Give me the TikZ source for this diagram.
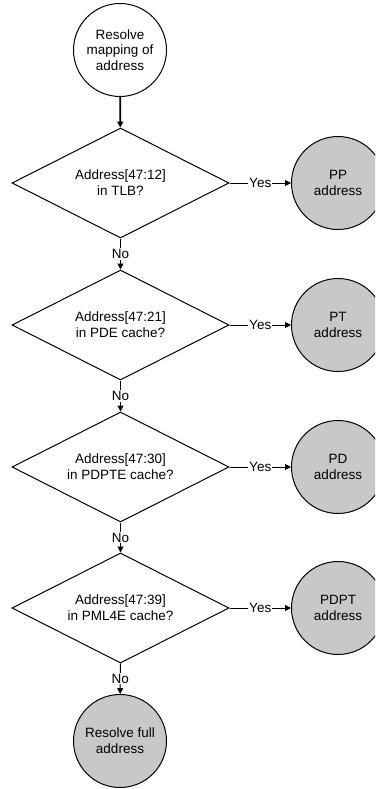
\documentclass[tikz,border=0pt]{standalone}
\usepackage{fontspec}
\setmainfont{Liberation Sans}
\usetikzlibrary{shapes.geometric,arrows.meta}
\definecolor{termgrey}{HTML}{C8C8C8}
\begin{document}
\begin{tikzpicture}[x=1pt,y=-1pt,
  every node/.style={font=\fontsize{13.5}{15.8}\selectfont},
  term/.style={circle, draw, line width=1pt, minimum size=93pt, inner sep=0pt, align=center},
  result/.style={term, fill=termgrey},
  test/.style={diamond, aspect=2, draw, line width=1pt, minimum width=217pt,
               minimum height=110pt, inner sep=0pt, align=center},
  flow/.style={line width=1pt, -{Triangle[length=6pt,width=6pt]}},
  lbl/.style={fill=white, inner sep=1pt}
]
\clip (0,0) rectangle (375,789);

% start and decisions
\node[term] (start) at (120,50) {Resolve\\mapping of\\address};
\node[test] (d1) at (120.5,183) {Address[47:12]\\in TLB?};
\node[test] (d2) at (120.5,325) {Address[47:21]\\in PDE cache?};
\node[test] (d3) at (120.5,467) {Address[47:30]\\in PDPTE cache?};
\node[test] (d4) at (120.5,608) {Address[47:39]\\in PML4E cache?};
\node[result] (full) at (120,741) {Resolve full\\address};

% cache hits
\node[result] (pp)   at (338,183) {PP\\address};
\node[result] (pt)   at (338,325) {PT\\address};
\node[result] (pd)   at (338,467) {PD\\address};
\node[result] (pdpt) at (338,608) {PDPT\\address};

% connectors
\draw[flow, line width=1.8pt] (start) -- (d1);
\draw[flow] (d1) -- node[lbl] {Yes} (pp);
\draw[flow] (d2) -- node[lbl] {Yes} (pt);
\draw[flow] (d3) -- node[lbl] {Yes} (pd);
\draw[flow] (d4) -- node[lbl] {Yes} (pdpt);
\draw[flow] (d1) -- node[lbl] {No} (d2);
\draw[flow] (d2) -- node[lbl] {No} (d3);
\draw[flow] (d3) -- node[lbl] {No} (d4);
\draw[flow] (d4) -- node[lbl] {No} (full);
\end{tikzpicture}
\end{document}
